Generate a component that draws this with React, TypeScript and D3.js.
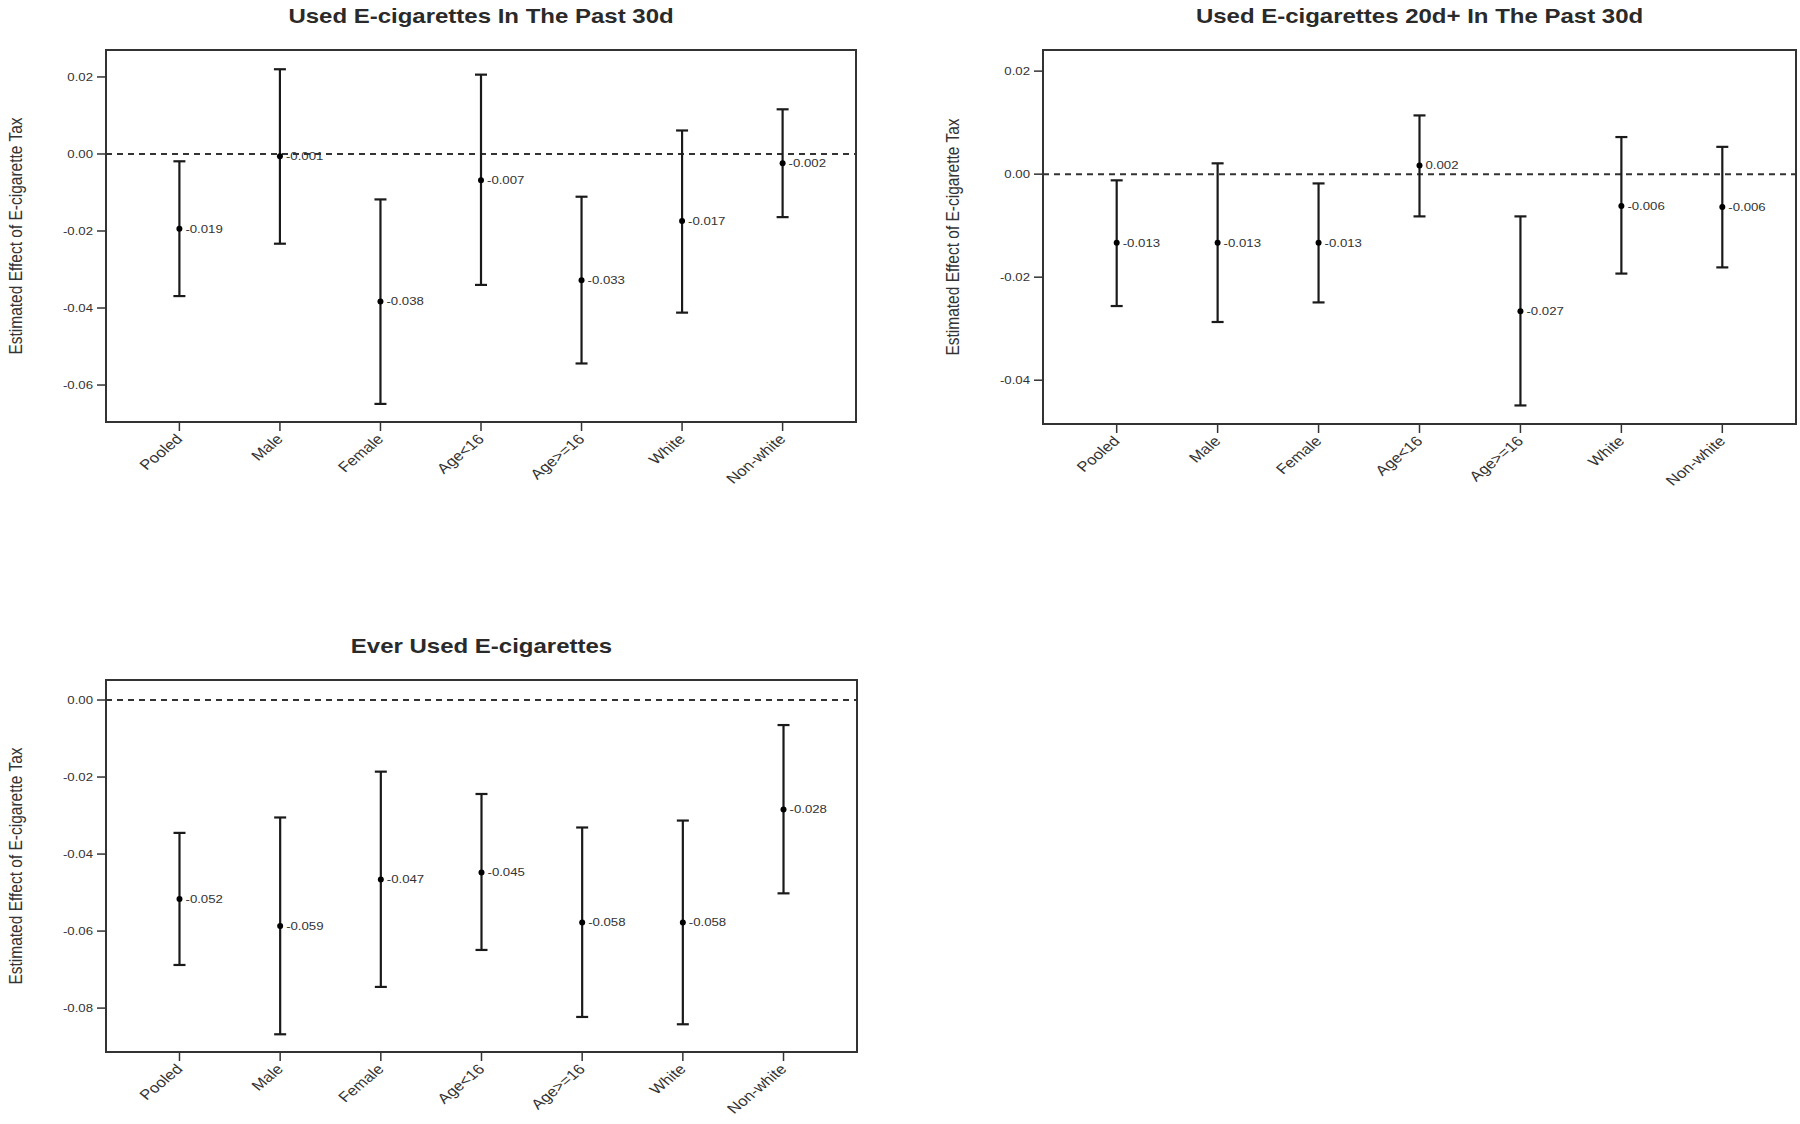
import React from "react";
import * as d3 from "d3";

const categories = ["Pooled", "Male", "Female", "Age<16", "Age>=16", "White", "Non-white"];

// Panel 1: Used E-cigarettes In The Past 30d
const past30Est = [-0.0194, -0.0006, -0.0383, -0.0068, -0.0328, -0.0174, -0.0024];
const past30Lo = [-0.0369, -0.0233, -0.0649, -0.034, -0.0544, -0.0412, -0.0164];
const past30Hi = [-0.0019, 0.022, -0.0118, 0.0206, -0.0111, 0.0061, 0.0116];
const past30Ticks = [0.02, 0.0, -0.02, -0.04, -0.06];
const past30Domain = [-0.0696, 0.027];

// Panel 2: Used E-cigarettes 20d+ In The Past 30d
const days20Est = [-0.0133, -0.0133, -0.0133, 0.0017, -0.0266, -0.0062, -0.0064];
const days20Lo = [-0.0256, -0.0287, -0.0249, -0.0082, -0.0449, -0.0193, -0.0181];
const days20Hi = [-0.0012, 0.0021, -0.0018, 0.0114, -0.0082, 0.0072, 0.0053];
const days20Ticks = [0.02, 0.0, -0.02, -0.04];
const days20Domain = [-0.0485, 0.0241];

// Panel 3: Ever Used E-cigarettes
const everEst = [-0.0517, -0.0587, -0.0466, -0.0448, -0.0578, -0.0578, -0.0284];
const everLo = [-0.0688, -0.0868, -0.0745, -0.0649, -0.0823, -0.0842, -0.0502];
const everHi = [-0.0345, -0.0305, -0.0186, -0.0244, -0.0331, -0.0313, -0.0065];
const everTicks = [0.0, -0.02, -0.04, -0.06, -0.08];
const everDomain = [-0.0914, 0.0052];

const titles = [
  "Used E-cigarettes In The Past 30d",
  "Used E-cigarettes 20d+ In The Past 30d",
  "Ever Used E-cigarettes",
];
const yTitle = "Estimated Effect of E-cigarette Tax";

const FONT = "'Liberation Sans', Arial, Helvetica, sans-serif";
const SX = 1.2;
const locale = d3.formatLocale({ decimal: ".", thousands: ",", grouping: [3], currency: ["", ""], minus: "-" });
const fmt = locale.format(".3f");
const tickFmt = locale.format(".2f");

type PanelProps = {
  title: string;
  est: number[];
  lo: number[];
  hi: number[];
  ticks: number[];
  domain: number[];
  box: { left: number; right: number; top: number; bottom: number };
  titleY: number;
  yTitleX: number;
};

function Panel({ title, est, lo, hi, ticks, domain, box, titleY, yTitleX }: PanelProps) {
  const x = d3.scalePoint<string>().domain(categories).range([box.left, box.right]).padding(0.73);
  const y = d3.scaleLinear().domain(domain).range([box.bottom, box.top]);
  const cx = (box.left + box.right) / 2;
  const cy = (box.top + box.bottom) / 2;
  const capW = 6;
  return (
    <g>
      <text
        transform={`translate(${cx},${titleY}) scale(${SX},1)`}
        textAnchor="middle"
        fontFamily={FONT}
        fontWeight="bold"
        fontSize={20}
        fill="#2a2a2a"
      >
        {title}
      </text>
      <text
        transform={`translate(${yTitleX},${cy}) scale(${SX},1) rotate(-90)`}
        textAnchor="middle"
        fontFamily={FONT}
        fontSize={15.5}
        fill="#333"
      >
        {yTitle}
      </text>
      {/* zero reference line */}
      <line
        x1={box.left}
        x2={box.right}
        y1={y(0)}
        y2={y(0)}
        stroke="#333"
        strokeWidth={2}
        strokeDasharray="6,5"
      />
      {/* y ticks */}
      {ticks.map((t) => (
        <g key={t}>
          <line x1={box.left - 9} x2={box.left} y1={y(t)} y2={y(t)} stroke="#333" strokeWidth={1.5} />
          <text
            transform={`translate(${box.left - 13},${y(t)}) scale(${SX},1)`}
            textAnchor="end"
            dy="0.35em"
            fontFamily={FONT}
            fontSize={11}
            fill="#333"
          >
            {tickFmt(t)}
          </text>
        </g>
      ))}
      {/* x ticks */}
      {categories.map((c) => (
        <g key={c}>
          <line x1={x(c)} x2={x(c)} y1={box.bottom} y2={box.bottom + 9} stroke="#333" strokeWidth={1.5} />
          <text
            transform={`translate(${(x(c) as number) + 4},${box.bottom + 18}) scale(${SX},1) rotate(-45)`}
            textAnchor="end"
            fontFamily={FONT}
            fontSize={14}
            fill="#333"
          >
            {c}
          </text>
        </g>
      ))}
      {/* error bars */}
      {categories.map((c, i) => {
        const px = x(c) as number;
        return (
          <g key={"e" + c}>
            <line x1={px} x2={px} y1={y(lo[i])} y2={y(hi[i])} stroke="#1a1a1a" strokeWidth={2.2} />
            <line x1={px - capW} x2={px + capW} y1={y(lo[i])} y2={y(lo[i])} stroke="#1a1a1a" strokeWidth={2.2} />
            <line x1={px - capW} x2={px + capW} y1={y(hi[i])} y2={y(hi[i])} stroke="#1a1a1a" strokeWidth={2.2} />
            <circle cx={px} cy={y(est[i])} r={3} fill="#000" />
            <text
              transform={`translate(${px + 6},${y(est[i])}) scale(${SX},1)`}
              dy="0.35em"
              fontFamily={FONT}
              fontSize={11}
              fill="#333"
            >
              {fmt(est[i])}
            </text>
          </g>
        );
      })}
      {/* frame */}
      <rect
        x={box.left}
        y={box.top}
        width={box.right - box.left}
        height={box.bottom - box.top}
        fill="none"
        stroke="#333"
        strokeWidth={2}
      />
    </g>
  );
}

export default function App() {
  return (
    <svg
      width={1800}
      height={1124}
      style={{ position: "absolute", left: 0, top: 0, background: "#fff" }}
    >
      <rect x={0} y={0} width={1800} height={1124} fill="#fff" />
      <Panel
        title={titles[0]}
        est={past30Est}
        lo={past30Lo}
        hi={past30Hi}
        ticks={past30Ticks}
        domain={past30Domain}
        box={{ left: 106, right: 856, top: 50, bottom: 422 }}
        titleY={23}
        yTitleX={22}
      />
      <Panel
        title={titles[1]}
        est={days20Est}
        lo={days20Lo}
        hi={days20Hi}
        ticks={days20Ticks}
        domain={days20Domain}
        box={{ left: 1043, right: 1796, top: 50, bottom: 424 }}
        titleY={23}
        yTitleX={959}
      />
      <Panel
        title={titles[2]}
        est={everEst}
        lo={everLo}
        hi={everHi}
        ticks={everTicks}
        domain={everDomain}
        box={{ left: 106, right: 857, top: 680, bottom: 1052 }}
        titleY={653}
        yTitleX={22}
      />
    </svg>
  );
}
